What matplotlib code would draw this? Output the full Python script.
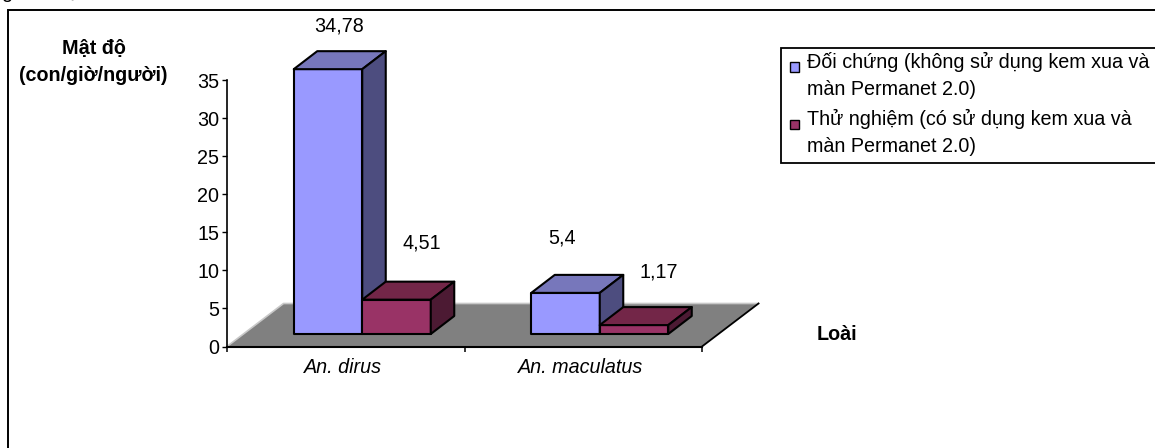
import matplotlib
matplotlib.use('Agg')
import matplotlib.pyplot as plt
from matplotlib.patches import Polygon, Rectangle

plt.rcParams['font.family'] = ['Liberation Sans', 'DejaVu Sans']

W, H = 1155, 448
FS = 14.2

species = ['An. dirus', 'An. maculatus']
control = [34.78, 5.4]
treated = [4.51, 1.17]
control_labels = ['34,78', '5,4']
treated_labels = ['4,51', '1,17']
y_ticks = [0, 5, 10, 15, 20, 25, 30, 35]
series_names = ['Đối chứng (không sử dụng kem xua và\nmàn Permanet 2.0)',
                'Thử nghiệm (có sử dụng kem xua và\nmàn Permanet 2.0)']

blue = ('#9999FF', '#7777BB', '#4D4D7F')
red = ('#993366', '#732648', '#4C1A33')

fig = plt.figure(figsize=(W / 100, H / 100), dpi=100)
ax = fig.add_axes([227 / W, 1 - 346.5 / H, 475 / W, 266.5 / H])
ax.set_xlim(0, 2)
ax.set_ylim(0, 35)
ax.patch.set_visible(False)

# sizes of the fake 3d projection, in data units
ux = 2 / 475
uy = 35 / 266.5
floor_dx, floor_dy = 56.5 * ux, 43 * uy
bar_dx, bar_dy = 23.5 * ux, 18 * uy
base_dx, base_dy = 16.5 * ux, 12.5 * uy
bar_w = 68.5 * ux


def poly(pts, color, z, lw=1.5, edge='black'):
    ax.add_patch(Polygon(pts, closed=True, facecolor=color, edgecolor=edge,
                         linewidth=lw, joinstyle='round', clip_on=False, zorder=z))


def draw_bar(x, h, colors, z):
    y0 = base_dy
    y1 = base_dy + h
    poly([(x, y0), (x + bar_w, y0), (x + bar_w, y1), (x, y1)], colors[0], z)
    poly([(x, y1), (x + bar_w, y1), (x + bar_w + bar_dx, y1 + bar_dy), (x + bar_dx, y1 + bar_dy)], colors[1], z)
    poly([(x + bar_w, y0), (x + bar_w + bar_dx, y0 + bar_dy), (x + bar_w + bar_dx, y1 + bar_dy), (x + bar_w, y1)], colors[2], z)


# floor: light lines on the far sides, black on the near ones
poly([(0, 0), (2, 0), (2 + floor_dx, floor_dy), (floor_dx, floor_dy)], '#808080', 1, lw=0)
ax.plot([0, floor_dx, 2 + floor_dx], [0, floor_dy, floor_dy], color='#C8C8C8', lw=1.2, clip_on=False, zorder=1.5)
ax.plot([2, 2 + floor_dx], [0, floor_dy], color='black', lw=1.3, clip_on=False, zorder=1.5)

# px offsets of the value labels from the top of each bar
control_off = [(11, 43), (-3, 55)]
treated_off = [(25, 57), (25, 53)]

for i in range(len(species)):
    left = i + 0.5 - bar_w + base_dx
    draw_bar(left, control[i], blue, 3 + i)
    draw_bar(left + bar_w, treated[i], red, 3.5 + i)
    ax.annotate(control_labels[i], (left + bar_w / 2, base_dy + control[i]),
                xytext=control_off[i], textcoords='offset pixels', ha='center', va='center',
                fontsize=FS, annotation_clip=False)
    ax.annotate(treated_labels[i], (left + bar_w * 1.5, base_dy + treated[i]),
                xytext=treated_off[i], textcoords='offset pixels', ha='center', va='center',
                fontsize=FS, annotation_clip=False)

for s in ['top', 'right']:
    ax.spines[s].set_visible(False)
ax.spines['left'].set_linewidth(1.2)
ax.spines['bottom'].set_linewidth(1.5)
ax.spines['bottom'].set_zorder(2)

ax.set_yticks(y_ticks)
ax.tick_params(axis='y', length=3.6, width=1, pad=2, labelsize=FS)
ax.set_xticks([0, 1, 2])
ax.set_xticklabels([])
ax.tick_params(axis='x', which='major', length=3.6, width=1.1)
ax.set_xticks([0.49, 1.49], minor=True)
ax.set_xticklabels(species, minor=True, style='italic', fontsize=FS)
ax.tick_params(axis='x', which='minor', length=0, pad=8)

# axis titles sit outside the plot, Excel style
fig.text(93.5 / W, 1 - 62 / H, 'Mật độ\n(con/giờ/người)', ha='center', va='center',
         fontweight='bold', fontsize=FS, linespacing=1.58)
fig.text(817 / W, 1 - 335 / H, 'Loài', ha='left', va='center', fontweight='bold', fontsize=FS)

# outer frame runs off the right and bottom edges
fig.add_artist(Rectangle((7.5 / W, -0.1), 1.2, 1.1 - 10 / H, transform=fig.transFigure,
                         facecolor='none', edgecolor='black', linewidth=1.4))

# cut-off line of text above the frame
fig.text(7 / W, 1 + 2 / H, 'g', ha='center', va='baseline', fontsize=FS)
fig.text(72 / W, 1 + 2 / H, 'ậ', ha='center', va='baseline', fontsize=FS)

# legend box, also running off the right edge
fig.add_artist(Rectangle((781.5 / W, 1 - 163 / H), 0.4, 115 / H, transform=fig.transFigure,
                         facecolor='white', edgecolor='black', linewidth=1.3))
for name, col, y in zip(series_names, [blue[0], red[0]], [75, 132]):
    fig.add_artist(Rectangle((789.5 / W, 1 - (y - 3) / H), 9.5 / W, 9.5 / H, transform=fig.transFigure,
                             facecolor=col, edgecolor='black', linewidth=1))
    fig.text(807 / W, 1 - y / H, name, ha='left', va='center', fontsize=FS, linespacing=1.53)

fig.savefig('out.png', dpi=100)
